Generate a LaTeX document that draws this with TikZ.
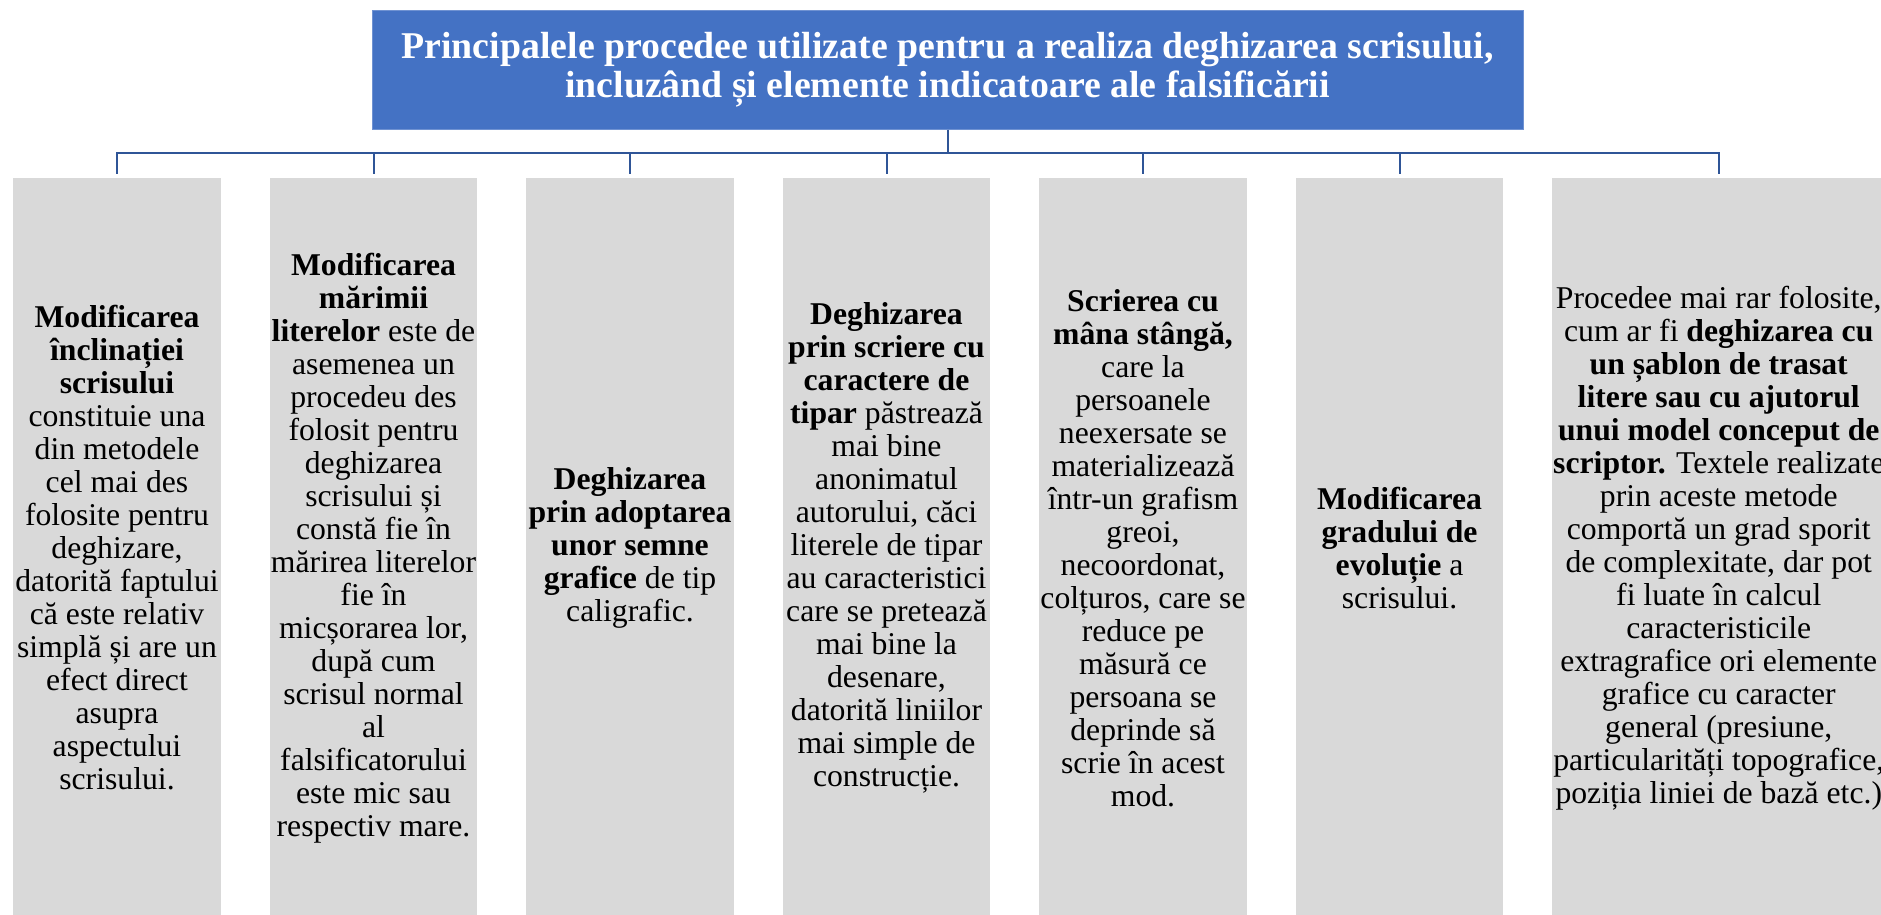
\documentclass[tikz,border=0pt]{standalone}
\usepackage{fontspec}
\setmainfont{Liberation Serif}
\usetikzlibrary{positioning}
\definecolor{smartblue}{RGB}{68,114,196}
\definecolor{edgeblue}{RGB}{111,146,210}
\definecolor{linkblue}{RGB}{47,85,151}
\definecolor{cardgray}{RGB}{217,217,217}
\newcommand{\headtxt}{\fontsize{37.8}{38.5}\selectfont}
\newcommand{\cardtxt}{\fontsize{31.7}{33}\selectfont}

\begin{document}
\begin{tikzpicture}[
      x=1pt,y=1pt,
      head/.style={draw=edgeblue,line width=1pt,fill=smartblue,text=white,font=\headtxt\bfseries,
                   minimum width=1151pt,minimum height=119pt,align=center,inner sep=0pt},
      card/.style={draw=white,line width=1pt,fill=cardgray,font=\cardtxt,
                   minimum width=208.5pt,minimum height=742pt,align=center,inner sep=0pt},
      wide/.style={card,minimum width=334pt},
      link/.style={line width=2pt,color=linkblue}]
      \useasboundingbox (0,0) rectangle (1881,-914);
      \node[head] (top) at (947.5,-69.5) {Principalele procedee utilizate pentru a realiza deghizarea scrisului,\\incluzând și elemente indicatoare ale falsificării};
      \node[card] (c1) at (117,-548) {\textbf{Modificarea}\\\textbf{înclinației}\\\textbf{scrisului}\\constituie una\\din metodele\\cel mai des\\folosite pentru\\deghizare,\\datorită faptului\\că este relativ\\simplă și are un\\efect direct\\asupra\\aspectului\\scrisului.};
      \node[card,right=47pt of c1] (c2) {\textbf{Modificarea}\\\textbf{mărimii}\\\textbf{literelor} este de\\asemenea un\\procedeu des\\folosit pentru\\deghizarea\\scrisului și\\constă fie în\\mărirea literelor\\fie în\\micșorarea lor,\\după cum\\scrisul normal\\al\\falsificatorului\\este mic sau\\respectiv mare.};
      \node[card,right=47pt of c2] (c3) {\textbf{Deghizarea}\\\textbf{prin adoptarea}\\\textbf{unor semne}\\\textbf{grafice} de tip\\caligrafic.};
      \node[card,right=47pt of c3] (c4) {\textbf{Deghizarea}\\\textbf{prin scriere cu}\\\textbf{caractere de}\\\textbf{tipar} păstrează\\mai bine\\anonimatul\\autorului, căci\\literele de tipar\\au caracteristici\\care se pretează\\mai bine la\\desenare,\\datorită liniilor\\mai simple de\\construcție.};
      \node[card,right=47pt of c4] (c5) {\textbf{Scrierea cu}\\\textbf{mâna stângă,}\\care la\\persoanele\\neexersate se\\materializează\\într-un grafism\\greoi,\\necoordonat,\\colțuros, care se\\reduce pe\\măsură ce\\persoana se\\deprinde să\\scrie în acest\\mod.};
      \node[card,right=47pt of c5] (c6) {\textbf{Modificarea}\\\textbf{gradului de}\\\textbf{evoluție} a\\scrisului.};
      \node[wide,right=47pt of c6] (c7) {Procedee mai rar folosite,\\cum ar fi \textbf{deghizarea cu}\\\textbf{un șablon de trasat}\\\textbf{litere sau cu ajutorul}\\\textbf{unui model conceput de}\\\textbf{scriptor.} Textele realizate\\prin aceste metode\\comportă un grad sporit\\de complexitate, dar pot\\fi luate în calcul\\caracteristicile\\extragrafice ori elemente\\grafice cu caracter\\general (presiune,\\particularități topografice,\\poziția liniei de bază etc.)};
      \coordinate (bar) at ([yshift=-23pt]top.south);
      \draw[link] (top.south) -- (bar);
      \foreach \i in {1,...,7} \draw[link] (bar) -| ([yshift=3pt]c\i.north);
\end{tikzpicture}
\end{document}
